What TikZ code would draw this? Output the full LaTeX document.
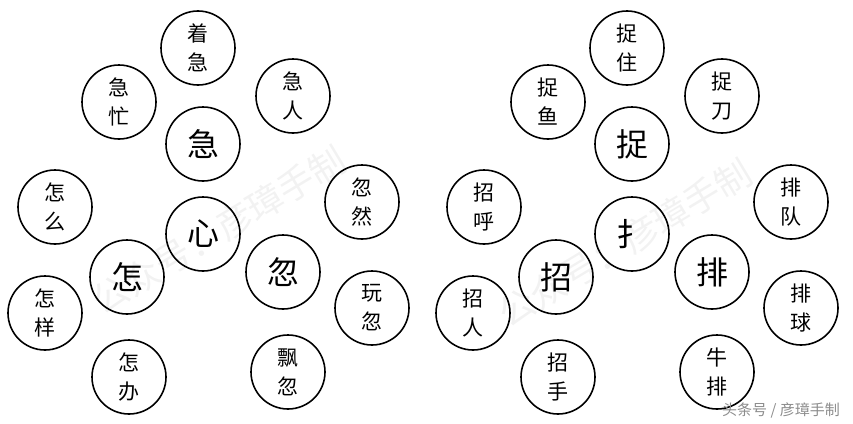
\documentclass[tikz,border=0pt]{standalone}
\usepackage{fontspec}
\newfontfamily\cjk{Noto Sans CJK SC}
\tikzset{
  hub/.style={circle, draw, line width=1.6pt, minimum size=74pt, inner sep=0pt,
    font=\cjk\fontsize{32}{32}\selectfont},
  word/.style={circle, draw, line width=1.6pt, minimum size=74pt, inner sep=0pt,
    align=center, font=\cjk\fontsize{21}{29}\selectfont},
  stamp/.style={text=black!5, font=\cjk\fontsize{36}{36}\selectfont, rotate=31}
}
\begin{document}
\begin{tikzpicture}[x=1pt, y=-1pt]
\useasboundingbox (0,0) rectangle (853,423);
% watermark
\node[stamp] (markL) at (219,230) {公众号：彦璋手制};
\node[stamp] (markR) at (625,243) {公众号：彦璋手制};
% left group
\node[hub] (xin) at (203,234) {心};
\node[hub] (ji) at (203,144) {急};
\node[hub] (zen) at (127,277) {怎};
\node[hub] (hu) at (283,272) {忽};
\node[word] (zhaoji) at (198,48) {着\\急};
\node[word] (jimang) at (119,102) {急\\忙};
\node[word] (jiren) at (293,96) {急\\人};
\node[word] (zenme) at (55,207) {怎\\么};
\node[word] (zenyang) at (45,313) {怎\\样};
\node[word] (zenban) at (129,377) {怎\\办};
\node[word] (huran) at (362,202) {忽\\然};
\node[word] (wanhu) at (372,308) {玩\\忽};
\node[word] (piaohu) at (288,372) {飘\\忽};
% right group
\node[hub] (shou) at (632,234) {扌};
\node[hub] (zhuo) at (632,144) {捉};
\node[hub] (zhao) at (556,277) {招};
\node[hub] (pai) at (712,272) {排};
\node[word] (zhuozhu) at (627,48) {捉\\住};
\node[word] (zhuoyu) at (548,102) {捉\\鱼};
\node[word] (zhuodao) at (722,96) {捉\\刀};
\node[word] (zhaohu) at (484,207) {招\\呼};
\node[word] (zhaoren) at (473,313) {招\\人};
\node[word] (zhaoshou) at (558,377) {招\\手};
\node[word] (paidui) at (791,202) {排\\队};
\node[word] (paiqiu) at (801,308) {排\\球};
\node[word] (niupai) at (717,372) {牛\\排};
% corner label
\node[text=black!45, font=\cjk\fontsize{15}{15}\selectfont] (credit) at (781,410) {头条号 / 彦璋手制};
\end{tikzpicture}
\end{document}
